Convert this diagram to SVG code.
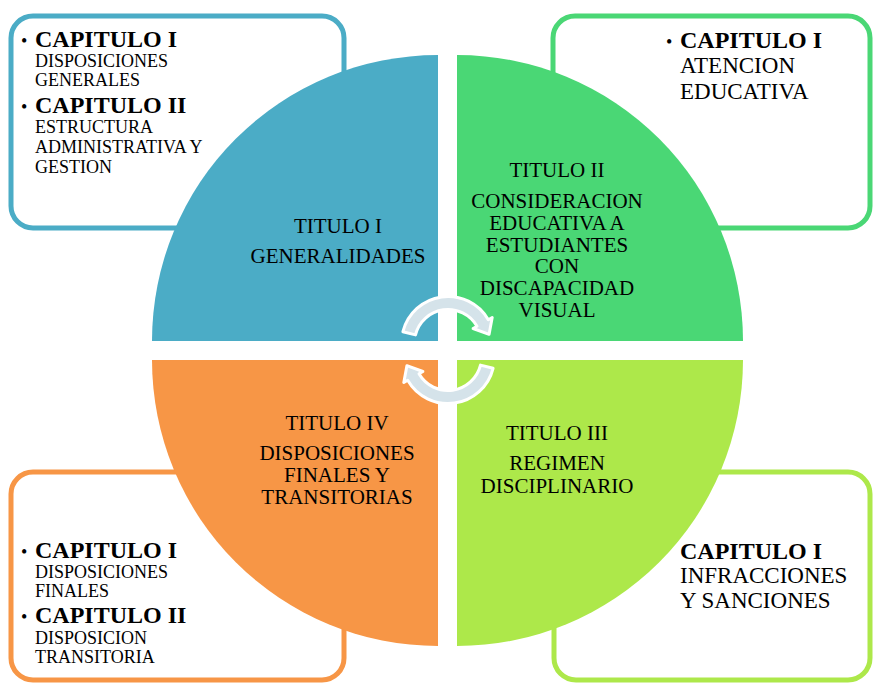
<svg xmlns="http://www.w3.org/2000/svg" width="873" height="683" viewBox="0 0 873 683">
<style>
.box{fill:#fff;stroke-width:5}
.t{font-family:"Liberation Serif","Times New Roman",serif;fill:#000}
.q{font-size:21px;text-anchor:middle}
.cap{font-size:24px;font-weight:bold}
.s{font-size:18px}
.m{font-size:23px}
.b{font-size:18px}
.arr{fill:#d5e3ea;stroke:#fff;stroke-width:3;stroke-linejoin:round}
</style>
<defs>
<path id="arrow" d="M 402.9 331.7 A 46.5 46.5 0 0 1 488.3 319.75 L 492.2 317.5 L 489.1 334.3 L 473.1 328.5 L 477 326.25 A 33.5 33.5 0 0 0 415.5 334.9 Z"/>
</defs>
<rect width="873" height="683" fill="#fff"/>
<g id="box-tl">
<rect class="box" x="11" y="16" width="333" height="212" rx="22" stroke="#4BACC6"/>
<text class="t b" x="21" y="47">•</text>
<text class="t cap" x="35" y="47">CAPITULO I</text>
<text class="t s" x="35" y="67">DISPOSICIONES</text>
<text class="t s" x="35" y="86">GENERALES</text>
<text class="t b" x="21" y="113">•</text>
<text class="t cap" x="35" y="113">CAPITULO II</text>
<text class="t s" x="35" y="133">ESTRUCTURA</text>
<text class="t s" x="35" y="153">ADMINISTRATIVA Y</text>
<text class="t s" x="35" y="173">GESTION</text>
</g>
<g id="box-tr">
<rect class="box" x="553" y="16" width="317" height="212" rx="22" stroke="#4AD775"/>
<text class="t b" x="666" y="48">•</text>
<text class="t cap" x="680" y="48">CAPITULO I</text>
<text class="t m" x="680" y="73">ATENCION</text>
<text class="t m" x="680" y="99">EDUCATIVA</text>
</g>
<g id="box-bl">
<rect class="box" x="11" y="472" width="333" height="208" rx="22" stroke="#F79646"/>
<text class="t b" x="21" y="558">•</text>
<text class="t cap" x="35" y="558">CAPITULO I</text>
<text class="t s" x="35" y="578">DISPOSICIONES</text>
<text class="t s" x="35" y="597">FINALES</text>
<text class="t b" x="21" y="623">•</text>
<text class="t cap" x="35" y="623">CAPITULO II</text>
<text class="t s" x="35" y="644">DISPOSICION</text>
<text class="t s" x="35" y="663">TRANSITORIA</text>
</g>
<g id="box-br">
<rect class="box" x="554" y="472" width="316" height="208" rx="22" stroke="#ADE84A"/>
<text class="t cap" x="680" y="559">CAPITULO I</text>
<text class="t m" x="680" y="583">INFRACCIONES</text>
<text class="t m" x="680" y="608">Y SANCIONES</text>
</g>
<g id="titulo-1">
<path d="M 438 341 L 152 341 A 286 286 0 0 1 438 55 Z" fill="#4BACC6"/>
<text class="t q" x="338" y="233">TITULO I</text>
<text class="t q" x="338" y="263">GENERALIDADES</text>
</g>
<g id="titulo-2">
<path d="M 457 341 L 457 55 A 286 286 0 0 1 743 341 Z" fill="#4AD775"/>
<text class="t q" x="557" y="177">TITULO II</text>
<text class="t q" x="557" y="208">CONSIDERACION</text>
<text class="t q" x="557" y="230">EDUCATIVA A</text>
<text class="t q" x="557" y="252">ESTUDIANTES</text>
<text class="t q" x="557" y="273">CON</text>
<text class="t q" x="557" y="295">DISCAPACIDAD</text>
<text class="t q" x="557" y="317">VISUAL</text>
</g>
<g id="titulo-3">
<path d="M 457 360 L 743 360 A 286 286 0 0 1 457 646 Z" fill="#ADE84A"/>
<text class="t q" x="557" y="440">TITULO III</text>
<text class="t q" x="557" y="470">REGIMEN</text>
<text class="t q" x="557" y="493">DISCIPLINARIO</text>
</g>
<g id="titulo-4">
<path d="M 438 360 L 438 646 A 286 286 0 0 1 152 360 Z" fill="#F79646"/>
<text class="t q" x="337" y="430">TITULO IV</text>
<text class="t q" x="337" y="460">DISPOSICIONES</text>
<text class="t q" x="337" y="482">FINALES Y</text>
<text class="t q" x="337" y="504">TRANSITORIAS</text>
</g>
<g id="connectors">
<use href="#arrow" class="arr"/>
<use href="#arrow" class="arr" transform="rotate(180 448 350)"/>
</g>
</svg>
